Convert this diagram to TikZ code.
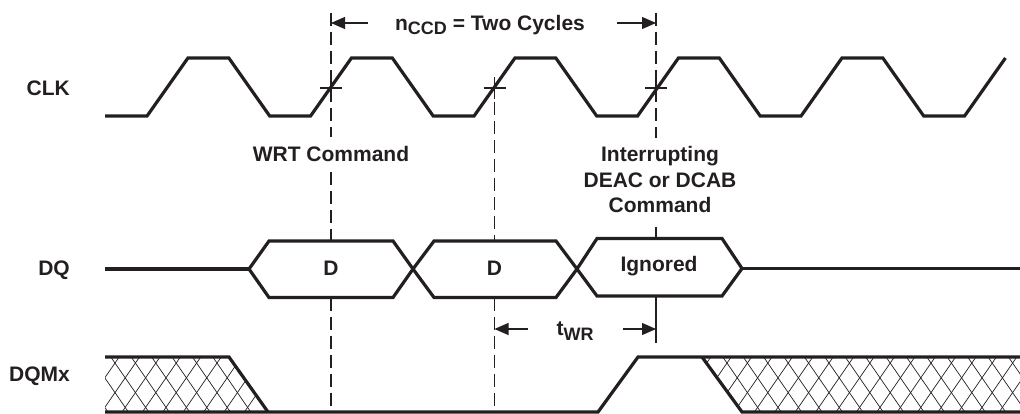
\documentclass[tikz,border=0pt]{standalone}
\usepackage{fontspec}
\setmainfont{Liberation Sans}
\usetikzlibrary{arrows.meta}
\definecolor{ink}{RGB}{35,31,32}
\begin{document}
\begin{tikzpicture}[x=1pt,y=-1pt,
  wave/.style={line width=3.2pt, draw=ink, line join=miter},
  guide/.style={line width=1.1pt, draw=ink, dash pattern=on 13pt off 6pt},
  guidesolid/.style={line width=1.1pt, draw=ink},
  hatch/.style={line width=0.7pt, draw=ink},
  dim/.style={line width=1.1pt, draw=ink, -{Triangle[length=14pt,width=12pt]}},
  lbl/.style={font=\fontsize{21}{25.5}\selectfont\bfseries, text=ink, inner sep=0pt},
  sig/.style={lbl, anchor=base east},
]
\useasboundingbox (0,0) rectangle (1020,414);

% guide lines
\draw[guide] (331,13) -- (331,137);
\draw[guide] (331,172) -- (331,241);
\draw[guide] (331,297.5) -- (331,413);
\draw[guide] (494.5,83) -- (494.5,241);
\draw[guide] (494.5,297.5) -- (494.5,413);
\draw[guide] (656,13) -- (656,138);
\draw[guidesolid] (656,227) -- (656,238.5);
\draw[guidesolid] (656,296) -- (656,343);
\foreach \x in {331,494.5,656} {
  \draw[guidesolid] ({\x-11},88) -- ({\x+11},88) (\x,77) -- (\x,99);
}

% CLK
\draw[wave] (105,116) -- (147.06,116) -- (187.94,58) -- (228.81,58) -- (269.69,116) -- (310.56,116)
  -- (351.44,58) -- (392.31,58) -- (433.19,116) -- (474.06,116)
  -- (514.94,58) -- (555.81,58) -- (596.69,116) -- (637.56,116)
  -- (678.44,58) -- (719.31,58) -- (760.19,116) -- (801.06,116)
  -- (841.94,58) -- (882.81,58) -- (923.69,116) -- (964.56,116) -- (1005.44,58);

% DQ
\draw[wave] (105,269) -- (249,269);
\draw[wave, fill=white] (249,269) -- (269,241) -- (393,241) -- (413,269) -- (393,297.5) -- (269,297.5) -- cycle;
\draw[wave, fill=white] (413,269) -- (434,241) -- (556,241) -- (577,269) -- (556,297.5) -- (434,297.5) -- cycle;
\draw[wave, fill=white] (577,269) -- (597,238.5) -- (722,238.5) -- (742,268.5) -- (722,296) -- (597,296) -- cycle;
\draw[wave] (742,268.5) -- (1020,268.5);

% DQMx hatching
\begin{scope}
  \clip (105,357) -- (229,357) -- (268,412) -- (105,412) -- cycle;
  \foreach \k in {-4,...,10} {
    \draw[hatch] ({115+20.4*\k-15.9},340) -- ({115+20.4*\k+39.3},420);
    \draw[hatch] ({115+20.4*\k+15.9},340) -- ({115+20.4*\k-39.3},420);
  }
\end{scope}
\begin{scope}
  \clip (702,357) -- (1020,357) -- (1020,412) -- (742,412) -- cycle;
  \foreach \k in {25,...,50} {
    \draw[hatch] ({115+20.4*\k-15.9},340) -- ({115+20.4*\k+39.3},420);
    \draw[hatch] ({115+20.4*\k+15.9},340) -- ({115+20.4*\k-39.3},420);
  }
\end{scope}
\draw[wave] (105,357) -- (229,357) -- (268,412);
\draw[wave] (105,412) -- (598,412) -- (638,357) -- (1020,357);
\draw[wave] (702,357) -- (742,412) -- (1020,412);

% dimension arrows
\draw[dim] (368,23) -- (331,23);
\draw[dim] (617,23) -- (656,23);
\draw[dim] (528,329) -- (494.5,329);
\draw[dim] (623,329) -- (656,329);

% labels
\node[sig] (clk) at (70,95.5) {CLK};
\node[sig] (dq) at (70,275.5) {DQ};
\node[sig] (dqm) at (70,381.5) {DQMx};
\node[lbl, anchor=base] (wrt) at (331,161.5) {WRT Command};
\node[lbl, anchor=base] (intr1) at (660,162) {Interrupting};
\node[lbl, anchor=base] (intr2) at (660,187.5) {DEAC or DCAB};
\node[lbl, anchor=base] (intr3) at (660,213) {Command};
\node[lbl, anchor=base] (d1) at (331,275.5) {D};
\node[lbl, anchor=base] (d2) at (494.5,275.5) {D};
\node[lbl, anchor=base] (ign) at (659,271.5) {Ignored};
\node[lbl, anchor=base] (nccd) at (490,30.5) {n\raisebox{-4.5pt}{\fontsize{18}{20}\selectfont CCD} = Two Cycles};
\node[lbl, anchor=base] (twr) at (575,335) {t\raisebox{-5pt}{\fontsize{18}{20}\selectfont WR}};
\end{tikzpicture}
\end{document}
